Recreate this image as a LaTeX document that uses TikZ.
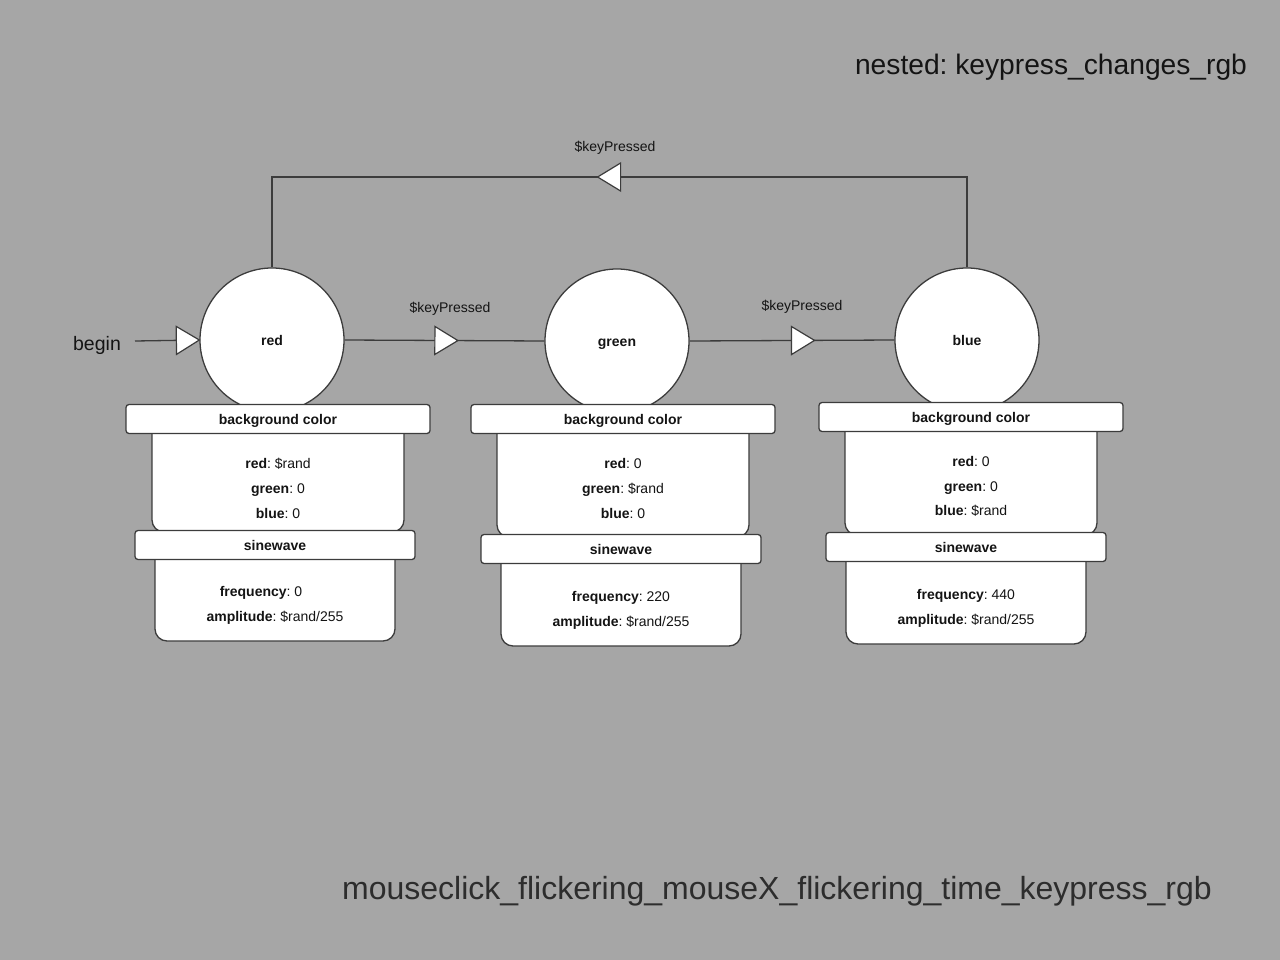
\documentclass[tikz,border=0pt]{standalone}
\usepackage{fontspec}
\setmainfont{Liberation Sans}
\usetikzlibrary{decorations.markings}
\definecolor{bg}{RGB}{166,166,166}
\definecolor{ln}{RGB}{60,60,60}
\definecolor{tx}{RGB}{20,20,20}
\tikzset{
  statecirc/.style={circle, draw=ln, fill=white, line width=1.3pt, minimum size=144pt, inner sep=0pt, font=\fontsize{14}{16}\selectfont\bfseries, text=tx, text height=10pt, text depth=0pt},
  hdr/.style={rectangle, rounded corners=3pt, draw=ln, fill=white, line width=1.3pt, minimum width=304pt, minimum height=29pt, inner sep=0pt, font=\fontsize{14}{16}\selectfont\bfseries, text=tx, text height=10pt, text depth=0pt},
  shdr/.style={hdr, minimum width=280pt},
  bodybox/.style={rectangle, rounded corners=12pt, draw=ln, fill=white, line width=1.3pt, inner sep=0pt},
  lbl/.style={font=\fontsize{14}{16}\selectfont, text=tx, inner sep=0pt, text height=10pt, text depth=0pt},
  conn/.style={draw=ln, line width=1.3pt},
  tri/.style={postaction={decorate, decoration={markings, mark=at position #1 with {\draw[draw=ln, fill=white, line width=1.2pt] (0,0) -- (-23,14) -- (-23,-14) -- cycle;}}}},
}
\frenchspacing
\begin{document}
\frenchspacing
\begin{tikzpicture}[x=1pt, y=-1pt]
\useasboundingbox (0,0) rectangle (1280,960);
\fill[bg] (0,0) rectangle (1280,960);

% titles
\node[font=\fontsize{28.2}{32}\selectfont, text=tx, inner sep=0pt, text height=20pt, text depth=0pt] (t1) at (1051,65) {nested: keypress\_changes\_rgb};
\node[font=\fontsize{32}{36}\selectfont, text={rgb,255:red,45;green,45;blue,45}, inner sep=0pt, text height=23pt, text depth=0pt] (t2) at (777,888) {mouseclick\_flickering\_mouseX\_flickering\_time\_keypress\_rgb};

% states
\node[statecirc] (red) at (272,340) {red};
\node[statecirc] (green) at (617,341) {green};
\node[statecirc] (blue) at (967,340) {blue};

% begin
\node[font=\fontsize{19.5}{23}\selectfont, text=tx, inner sep=0pt, text height=14pt, text depth=0pt] (begin) at (97,343) {begin};
\coordinate (bstart) at (135,341);
\draw[conn, tri=1] (bstart) -- (red.west);

% transitions
\draw[conn, tri=0.567] (red.east) -- (green.west);
\draw[conn, tri=0.61] (green.east) -- (blue.west);
\coordinate (ctr) at (967,177);
\coordinate (ctl) at (272,177);
\draw[conn, tri=0.525] (blue.north) -- (ctr) -- (ctl) -- (red.north);

\node[lbl] (k1) at (450,307) {\$keyPressed};
\node[lbl] (k2) at (802,305) {\$keyPressed};
\node[lbl] (k3) at (615,147) {\$keyPressed};

% ---- red panel
\node[bodybox, minimum width=252pt, minimum height=112pt] (rb1) at (278,476) {};
\node[hdr] (rh1) at (278,419) {background color};
\node[bodybox, minimum width=240pt, minimum height=100pt] (rb2) at (275,591) {};
\node[shdr] (rh2) at (275,545) {sinewave};
\node[lbl] (r1) at (278,463) {\textbf{red}: \$rand};
\node[lbl] (r2) at (278,488) {\textbf{green}: 0};
\node[lbl] (r3) at (278,513) {\textbf{blue}: 0};
\node[lbl] (r4) at (261,591) {\textbf{frequency}: 0};
\node[lbl] (r5) at (275,616) {\textbf{amplitude}: \$rand/255};

% ---- green panel
\node[bodybox, minimum width=252pt, minimum height=116pt] (gb1) at (623,479) {};
\node[hdr] (gh1) at (623,419) {background color};
\node[bodybox, minimum width=240pt, minimum height=100pt] (gb2) at (621,596) {};
\node[shdr] (gh2) at (621,549) {sinewave};
\node[lbl] (g1) at (623,463) {\textbf{red}: 0};
\node[lbl] (g2) at (623,488) {\textbf{green}: \$rand};
\node[lbl] (g3) at (623,513) {\textbf{blue}: 0};
\node[lbl] (g4) at (621,596) {\textbf{frequency}: 220};
\node[lbl] (g5) at (621,621) {\textbf{amplitude}: \$rand/255};

% ---- blue panel
\node[bodybox, minimum width=252pt, minimum height=116pt] (bb1) at (971,477) {};
\node[hdr] (bh1) at (971,417) {background color};
\node[bodybox, minimum width=240pt, minimum height=100pt] (bb2) at (966,594) {};
\node[shdr] (bh2) at (966,547) {sinewave};
\node[lbl] (b1) at (971,461) {\textbf{red}: 0};
\node[lbl] (b2) at (971,486) {\textbf{green}: 0};
\node[lbl] (b3) at (971,510) {\textbf{blue}: \$rand};
\node[lbl] (b4) at (966,594) {\textbf{frequency}: 440};
\node[lbl] (b5) at (966,619) {\textbf{amplitude}: \$rand/255};
\end{tikzpicture}
\end{document}
